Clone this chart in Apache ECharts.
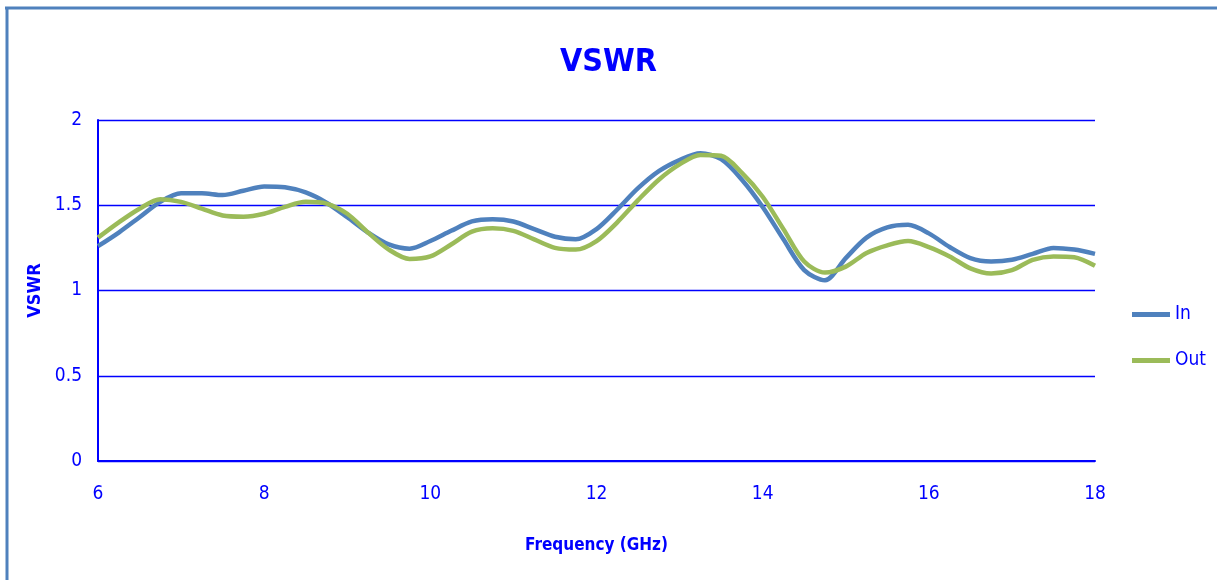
<!DOCTYPE html>
<html>
<head>
<meta charset="utf-8">
<script src="https://cdn.jsdelivr.net/npm/echarts@6/dist/echarts.min.js"></script>
<style>
  html, body { margin: 0; padding: 0; background: #fff; }
  #chart { width: 1217px; height: 580px; }
</style>
</head>
<body>
<div id="chart"></div>
<script>
// frequency points (GHz)
const freq = [
  6.00, 6.25, 6.50, 6.75, 7.00, 7.25, 7.50, 7.75, 8.00, 8.25,
  8.50, 8.75, 9.00, 9.25, 9.50, 9.75, 10.00, 10.25, 10.50, 10.75,
  11.00, 11.25, 11.50, 11.75, 12.00, 12.25, 12.50, 12.75, 13.00, 13.25,
  13.50, 13.75, 14.00, 14.25, 14.50, 14.75, 15.00, 15.25, 15.50, 15.75,
  16.00, 16.25, 16.50, 16.75, 17.00, 17.25, 17.50, 17.75, 18.00,
];

const vswrIn = [
  1.26, 1.34, 1.43, 1.52, 1.57, 1.57, 1.56, 1.585, 1.61, 1.605,
  1.575, 1.515, 1.43, 1.34, 1.27, 1.245, 1.29, 1.35, 1.405, 1.418,
  1.405, 1.36, 1.315, 1.30, 1.36, 1.475, 1.60, 1.70, 1.765, 1.805,
  1.77, 1.65, 1.49, 1.30, 1.12, 1.06, 1.19, 1.31, 1.37, 1.385,
  1.335, 1.255, 1.19, 1.17, 1.18, 1.215, 1.25, 1.24, 1.215,
];

const vswrOut = [
  1.31, 1.40, 1.48, 1.535, 1.52, 1.48, 1.44, 1.433, 1.45, 1.49,
  1.52, 1.51, 1.45, 1.34, 1.24, 1.185, 1.20, 1.27, 1.345, 1.365,
  1.35, 1.30, 1.25, 1.24, 1.29, 1.40, 1.53, 1.65, 1.74, 1.795,
  1.79, 1.69, 1.55, 1.36, 1.17, 1.105, 1.14, 1.22, 1.265, 1.29,
  1.255, 1.20, 1.13, 1.10, 1.12, 1.18, 1.20, 1.195, 1.145,
];

const seriesNames = ['In', 'Out'];
const seriesColors = ['#4f81bd', '#9bbb59'];

const blue = '#0000ff';
const font = '"DejaVu Sans Condensed", "Liberation Sans Narrow", "Liberation Sans", sans-serif';

const chart = echarts.init(document.getElementById('chart'));

chart.setOption({
  animation: false,
  title: {
    text: 'VSWR',
    left: 'center',
    top: 42,
    textStyle: {
      color: blue,
      fontFamily: font,
      fontWeight: 'bold',
      fontSize: 32,
    },
  },
  grid: {
    left: 98,
    right: 122,
    top: 120,
    bottom: 119,
  },
  legend: {
    orient: 'vertical',
    left: 1127,
    top: 300,
    itemWidth: 38,
    itemHeight: 5,
    itemGap: 27,
    icon: 'rect',
    data: seriesNames,
    textStyle: {
      color: blue,
      fontFamily: font,
      fontSize: 19,
    },
  },
  xAxis: {
    type: 'value',
    min: 6,
    max: 18,
    interval: 2,
    name: 'Frequency (GHz)',
    nameLocation: 'middle',
    nameGap: 76,
    nameTextStyle: {
      color: blue,
      fontFamily: font,
      fontWeight: 'bold',
      fontSize: 17,
    },
    axisLine: { show: true, lineStyle: { color: blue, width: 2 } },
    axisTick: { show: false },
    splitLine: { show: false },
    axisLabel: {
      color: blue,
      fontFamily: font,
      fontSize: 19,
      margin: 24,
    },
  },
  yAxis: {
    type: 'value',
    min: 0,
    max: 2,
    interval: 0.5,
    name: 'VSWR',
    nameLocation: 'middle',
    nameGap: 50,
    nameTextStyle: {
      color: blue,
      fontFamily: font,
      fontWeight: 'bold',
      fontSize: 18,
    },
    axisLine: { show: true, lineStyle: { color: blue, width: 2 } },
    axisTick: { show: false },
    splitLine: { lineStyle: { color: blue, width: 1.3 } },
    axisLabel: {
      color: blue,
      fontFamily: font,
      fontSize: 19,
      margin: 16,
    },
  },
  graphic: [
    {
      type: 'line',
      shape: { x1: 5, y1: 8, x2: 1217, y2: 8 },
      style: { stroke: '#4f81bd', lineWidth: 3 },
    },
    {
      type: 'line',
      shape: { x1: 7, y1: 7, x2: 7, y2: 580 },
      style: { stroke: '#4f81bd', lineWidth: 3 },
    },
  ],
  series: [vswrIn, vswrOut].map((vals, i) => ({
    name: seriesNames[i],
    type: 'line',
    smooth: 0.3,
    showSymbol: false,
    color: seriesColors[i],
    lineStyle: { width: 4.5, color: seriesColors[i] },
    data: freq.map((f, k) => [f, vals[k]]),
  })),
});
</script>
</body>
</html>
